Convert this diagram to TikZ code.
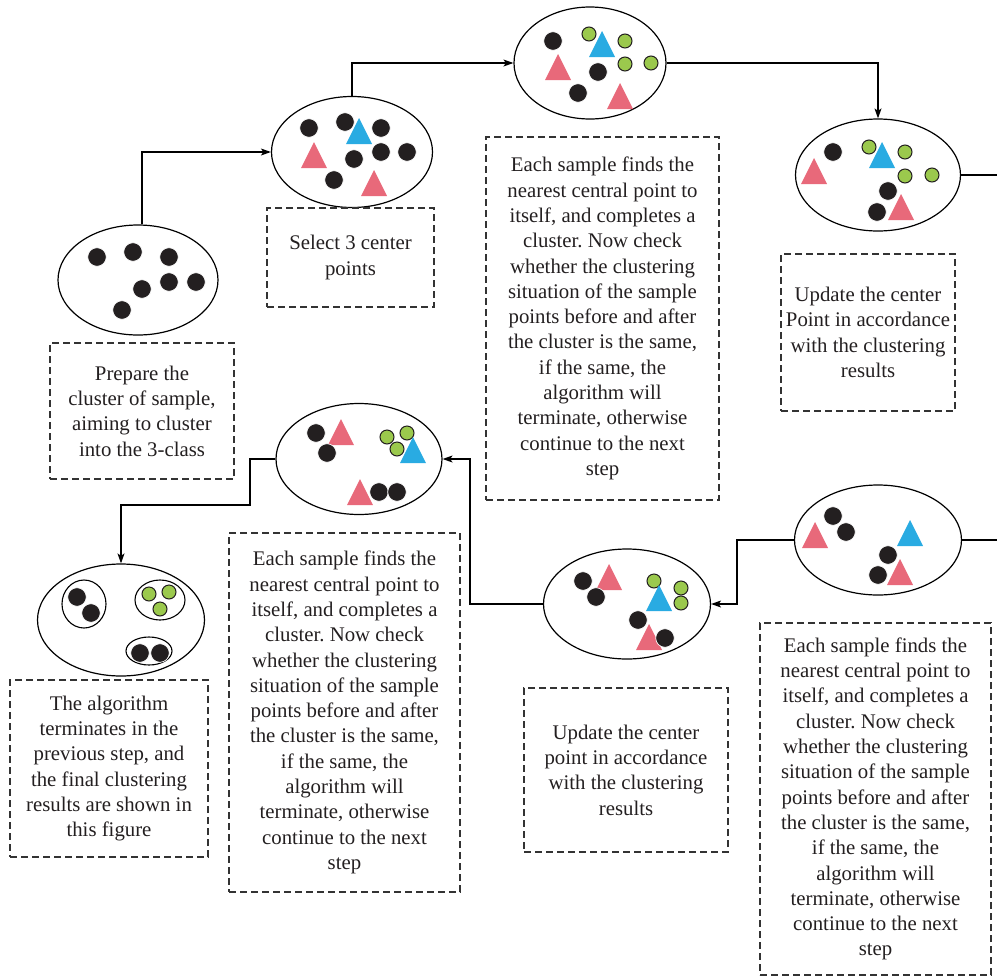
\documentclass[tikz,border=0pt]{standalone}
\usepackage{fontspec}
\setmainfont{Liberation Serif}
\frenchspacing
\usetikzlibrary{shapes.geometric,arrows.meta,calc}
\definecolor{dotk}{HTML}{231F20}
\definecolor{tred}{HTML}{E8697A}
\definecolor{tblue}{HTML}{29ABE2}
\definecolor{tgreen}{HTML}{9BC94D}
\definecolor{txt}{HTML}{231F20}
\definecolor{boxc}{HTML}{333333}
\tikzset{
  clus/.style={draw=black, line width=1.2pt, ellipse, inner sep=0pt},
  subclus/.style={draw=black, line width=1.1pt, ellipse, inner sep=0pt},
  textbox/.style={draw=boxc, dash pattern=on 7pt off 4pt, line width=1.2pt,
    align=center, inner sep=0pt, text=txt, font=\fontsize{20.8}{25.3}\selectfont},
  conn/.style={line width=1.2pt, draw=black},
  arr/.style={conn, -{Stealth[length=10pt,width=7pt,inset=2.5pt]}},
}
\newcommand\mkdot[2]{\filldraw[fill=dotk, draw=white, line width=0.7pt] (#1,#2) circle (9.3pt);}
\newcommand\mgdot[2]{\filldraw[fill=tgreen, draw=dotk, line width=1pt] (#1,#2) circle (7pt);}
\newcommand\mtri[3]{\fill[#1] (#2,#3) -- ++(-13,26) -- ++(26,0) -- cycle;}
\begin{document}
\begin{tikzpicture}[x=1pt,y=-1pt]
\useasboundingbox (0,0) rectangle (997,978);
% clusters
\node[clus, minimum width=160pt, minimum height=110pt] (e1) at (138,280) {};
\node[clus, minimum width=161pt, minimum height=111pt] (e2) at (352,152) {};
\node[clus, minimum width=152pt, minimum height=112pt] (e3) at (590,63) {};
\node[clus, minimum width=165pt, minimum height=112pt] (e4) at (878,175) {};
\node[clus, minimum width=166pt, minimum height=111pt] (e5) at (359,459) {};
\node[clus, minimum width=167pt, minimum height=112pt] (e6) at (121,620) {};
\node[clus, minimum width=167pt, minimum height=110pt] (e7) at (627,604) {};
\node[clus, minimum width=167pt, minimum height=110pt] (e8) at (878,540) {};
\node[subclus, minimum width=44pt, minimum height=48pt] (s1) at (84,604) {};
\node[subclus, minimum width=50pt, minimum height=40pt] (s2) at (160,600) {};
\node[subclus, minimum width=46pt, minimum height=28pt] (s3) at (149,651) {};
% e1
\mkdot{97}{257}\mkdot{133}{252}\mkdot{169}{257}\mkdot{169}{282}\mkdot{196}{282}\mkdot{142}{289}\mkdot{122}{310}
% e2
\mkdot{309}{128}\mkdot{345}{122}\mkdot{381}{128}\mkdot{381}{152}\mkdot{407}{152}\mkdot{354}{159}\mkdot{334}{180}
\mtri{tblue}{359}{118}\mtri{tred}{314}{142}\mtri{tred}{374}{170}
% e3
\mkdot{553}{41}\mkdot{598}{72}\mkdot{578}{93}
\mgdot{589}{34}\mgdot{625}{41}\mgdot{625}{64}\mgdot{651}{63}
\mtri{tblue}{602}{31}\mtri{tred}{558}{54}\mtri{tred}{620}{83}
% e4
\mkdot{833}{152}\mkdot{888}{191}\mkdot{877}{212}
\mgdot{869}{147}\mgdot{905}{152}\mgdot{905}{176}\mgdot{932}{175}
\mtri{tblue}{882}{142}\mtri{tred}{814}{158}\mtri{tred}{901}{194}
% e5
\mtri{tred}{341}{419}\mtri{tred}{360}{479}
\mkdot{316}{433}\mkdot{327}{453}\mkdot{379}{492}\mkdot{397}{492}
\mgdot{387}{437}\mgdot{407}{433}\mgdot{397}{449}
\mtri{tblue}{413}{437}
% e6
\mkdot{77}{597}\mkdot{91}{613}
\mgdot{149}{594}\mgdot{169}{592}\mgdot{160}{609}
\mkdot{140}{653}\mkdot{160}{653}
% e7
\mtri{tred}{609}{564}\mtri{tred}{649}{624}
\mgdot{654}{581}\mgdot{681}{588}\mgdot{681}{603}
\mtri{tblue}{659}{585}
\mkdot{583}{581}\mkdot{596}{597}\mkdot{638}{620}\mkdot{665}{638}
% e8
\mkdot{833}{516}\mkdot{846}{532}\mkdot{888}{555}\mkdot{878}{575}
\mtri{tblue}{910}{520}\mtri{tred}{815}{522}\mtri{tred}{900}{559}
% text boxes
\node[textbox, minimum width=184pt, minimum height=136pt] (b1) at (142,411)
  {Prepare the\\cluster of sample,\\aiming to cluster\\into the 3-class};
\node[textbox, minimum width=167pt, minimum height=99pt] (b2) at (350.5,257.5)
  {Select 3 center\\points};
\node[textbox, minimum width=233pt, minimum height=363pt] (b3) at (602.5,318.5)
  {Each sample finds the\\nearest central point to\\itself, and completes a\\cluster. Now check\\whether the clustering\\situation of the sample\\points before and after\\the cluster is the same,\\if the same, the\\algorithm will\\terminate, otherwise\\continue to the next\\step};
\node[textbox, minimum width=174pt, minimum height=157pt] (b4) at (868,332.5)
  {Update the center\\Point in accordance\\with the clustering\\results};
\node[textbox, minimum width=231pt, minimum height=359pt] (b5) at (344.5,712.5)
  {Each sample finds the\\nearest central point to\\itself, and completes a\\cluster. Now check\\whether the clustering\\situation of the sample\\points before and after\\the cluster is the same,\\if the same, the\\algorithm will\\terminate, otherwise\\continue to the next\\step};
\node[textbox, minimum width=198pt, minimum height=177pt] (b6) at (109,768.5)
  {The algorithm\\terminates in the\\previous step, and\\the final clustering\\results are shown in\\this figure};
\node[textbox, minimum width=204pt, minimum height=164pt] (b7) at (626,770)
  {Update the center\\point in accordance\\with the clustering\\results};
\node[textbox, minimum width=231pt, minimum height=352pt] (b8) at (875.5,799)
  {Each sample finds the\\nearest central point to\\itself, and completes a\\cluster. Now check\\whether the clustering\\situation of the sample\\points before and after\\the cluster is the same,\\if the same, the\\algorithm will\\terminate, otherwise\\continue to the next\\step};
% connectors
\coordinate (r1) at (997,175);
\coordinate (r2) at (997,540);
\coordinate (k1) at (250,505);
\draw[arr] ($(e1.north)+(4,0)$) |- (e2.west);
\draw[arr] (e2.north) |- (e3.west);
\draw[arr] (e3.east) -| (e4.north);
\draw[conn] (e4.east) -- (r1);
\draw[conn] (r2) -- (e8.east);
\draw[arr] (e8.west) -- ++(-57,0) |- (e7.east);
\draw[arr] (e7.west) -- ++(-73,0) |- (e5.east);
\draw[arr] (e5.west) -| (k1) -| (e6.north);
\end{tikzpicture}
\end{document}
